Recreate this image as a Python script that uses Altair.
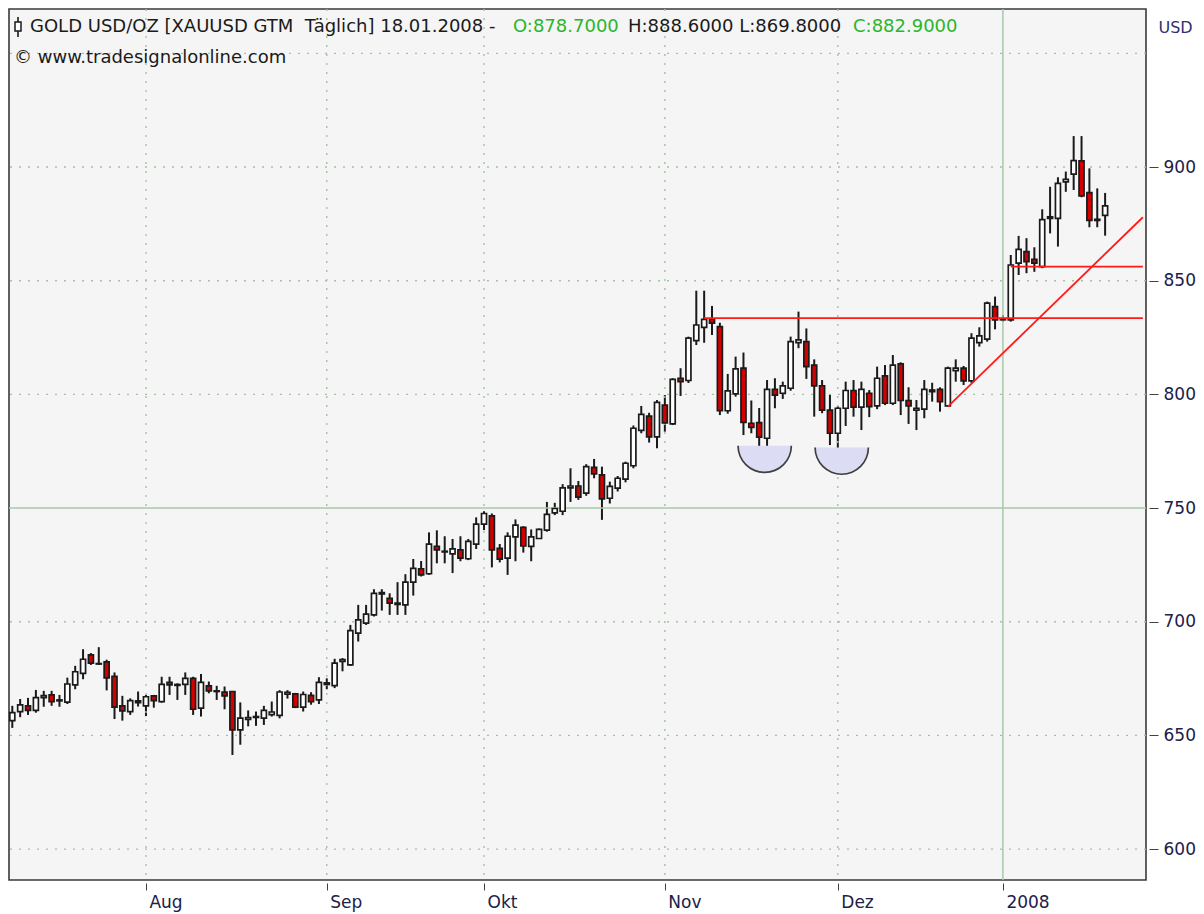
import math
import altair as alt
import pandas as pd

# ---------------- data ----------------
opens = [656.5, 660.5, 663.0, 661.0, 666.6, 667.8, 665.2, 664.6, 672.2, 677.3,
         685.4, 681.4, 682.3, 676.0, 663.0, 660.5, 664.4, 663.0, 667.4, 664.9,
         673.3, 672.0, 672.4, 675.1, 662.0, 671.8, 669.3, 669.0, 669.3, 652.4,
         657.0, 657.9, 657.6, 659.1, 658.8, 668.1, 668.3, 662.4, 667.6, 665.6,
         672.4, 671.9, 682.5, 681.0, 695.0, 699.4, 703.0, 712.2, 710.3, 707.6,
         707.4, 717.4, 723.3, 721.1, 733.1, 730.7, 729.8, 731.6, 727.7, 734.1,
         742.9, 746.6, 732.3, 728.0, 737.3, 741.5, 733.1, 736.6, 740.3, 747.9,
         748.6, 758.9, 759.7, 756.6, 767.9, 764.6, 754.3, 758.8, 762.7, 768.6,
         784.2, 790.4, 781.3, 795.3, 787.0, 807.1, 806.1, 823.6, 829.5, 833.1,
         829.8, 792.8, 800.2, 811.5, 787.3, 787.6, 780.7, 802.2, 800.5, 802.7,
         822.8, 823.2, 812.9, 803.8, 793.1, 782.9, 793.9, 801.7, 794.4, 800.5,
         794.9, 808.1, 796.1, 813.4, 797.3, 793.1, 793.5, 801.2, 802.2, 794.9,
         810.4, 811.5, 805.9, 822.8, 824.3, 838.6, 832.8, 832.8, 857.7, 862.8,
         859.4, 856.2, 877.4, 877.4, 893.5, 896.9, 902.7, 888.7, 876.5, 878.7]
highs = [663.0, 666.0, 666.5, 670.0, 669.6, 669.6, 667.8, 675.4, 680.6, 687.9,
         686.2, 688.8, 683.3, 677.7, 667.4, 666.3, 669.3, 667.8, 667.8, 675.8,
         675.8, 672.9, 677.7, 675.8, 677.0, 673.7, 671.8, 671.5, 669.5, 664.5,
         661.0, 660.5, 663.0, 664.9, 669.9, 669.9, 668.7, 669.3, 669.0, 675.6,
         675.1, 683.7, 684.0, 698.6, 707.4, 707.4, 714.3, 714.3, 712.5, 717.4,
         720.9, 727.6, 726.7, 739.3, 740.2, 737.6, 736.4, 737.6, 736.4, 745.9,
         748.6, 747.6, 734.2, 739.3, 745.0, 742.0, 740.6, 741.0, 752.7, 752.3,
         760.5, 767.5, 761.9, 769.3, 771.6, 768.2, 761.6, 764.1, 770.4, 786.3,
         794.9, 791.9, 797.5, 799.7, 807.1, 811.5, 825.4, 845.6, 845.6, 838.9,
         831.5, 809.0, 816.6, 818.4, 797.3, 794.0, 806.3, 807.1, 805.6, 825.4,
         836.4, 829.0, 815.4, 806.3, 800.0, 794.9, 805.6, 806.3, 805.6, 801.9,
         812.2, 812.9, 817.3, 814.1, 803.1, 797.5, 806.3, 805.1, 803.1, 812.2,
         815.4, 812.5, 826.9, 829.5, 840.8, 843.0, 834.9, 861.3, 869.7, 868.7,
         864.7, 881.4, 891.3, 895.5, 898.0, 913.6, 913.6, 899.4, 890.6, 888.6]
lows = [653.3, 658.0, 659.0, 660.0, 662.6, 663.0, 662.6, 663.8, 670.3, 674.7,
        681.0, 681.0, 669.8, 657.2, 656.5, 659.0, 662.7, 658.5, 662.2, 664.4,
        667.8, 665.6, 667.8, 659.0, 658.3, 668.5, 665.6, 661.5, 641.4, 645.9,
        654.0, 654.2, 654.6, 658.3, 657.5, 666.2, 662.0, 660.5, 663.5, 663.8,
        670.3, 670.8, 678.2, 680.6, 691.3, 698.6, 702.3, 704.9, 703.0, 703.0,
        703.0, 711.5, 719.9, 720.6, 725.7, 725.7, 721.4, 726.6, 727.1, 732.0,
        740.3, 723.9, 726.1, 720.6, 726.6, 730.4, 726.6, 736.4, 739.6, 746.9,
        746.9, 752.7, 753.6, 755.4, 763.1, 744.8, 752.0, 757.3, 761.3, 767.5,
        782.9, 778.8, 776.3, 783.6, 786.5, 799.3, 805.0, 821.7, 822.7, 826.1,
        790.9, 791.5, 799.0, 782.1, 782.9, 773.0, 771.9, 793.9, 798.0, 801.6,
        820.3, 806.8, 790.2, 791.7, 777.7, 776.3, 786.1, 790.2, 784.3, 790.0,
        793.5, 795.3, 795.3, 790.9, 787.0, 784.3, 789.5, 796.8, 792.4, 794.6,
        805.6, 804.1, 805.1, 821.0, 823.2, 828.6, 832.0, 832.0, 852.5, 853.3,
        853.9, 855.5, 870.8, 865.0, 889.1, 889.9, 886.7, 873.5, 873.5, 869.8]
closes = [660.0, 663.4, 661.0, 666.6, 667.5, 664.9, 665.6, 672.6, 678.0, 683.5,
          681.8, 681.6, 675.3, 662.4, 660.8, 665.3, 665.2, 667.0, 665.3, 672.4,
          672.2, 672.4, 675.1, 661.5, 673.3, 669.6, 669.6, 667.4, 652.4, 657.6,
          657.8, 658.3, 661.0, 660.3, 669.1, 668.9, 662.4, 668.0, 664.9, 673.3,
          673.1, 681.8, 683.3, 696.1, 700.8, 703.3, 712.5, 712.8, 708.2, 708.2,
          717.4, 723.5, 720.6, 734.1, 731.6, 731.0, 732.0, 728.0, 735.3, 742.9,
          747.6, 731.6, 727.5, 737.6, 742.5, 733.3, 737.3, 740.6, 747.2, 749.8,
          758.9, 759.7, 754.8, 768.2, 765.0, 754.0, 759.5, 763.1, 769.7, 785.1,
          791.2, 781.3, 796.5, 787.5, 806.6, 805.6, 824.7, 830.5, 833.0, 831.3,
          792.8, 801.5, 811.2, 787.7, 785.5, 781.2, 802.2, 799.7, 803.7, 823.2,
          824.0, 812.2, 803.7, 793.1, 782.9, 793.9, 801.7, 794.4, 802.2, 794.6,
          807.1, 796.1, 812.9, 797.3, 794.9, 793.9, 802.2, 801.9, 796.8, 811.5,
          811.5, 805.9, 824.7, 825.7, 840.1, 832.8, 833.2, 856.9, 863.8, 858.4,
          857.7, 876.9, 878.1, 892.8, 894.6, 902.8, 887.3, 876.5, 877.0, 882.9]
bar_index = list(range(len(opens)))

month_ticks = [17, 40, 60, 83, 105, 126]
month_labels = ["Aug", "Sep", "Okt", "Nov", "Dez", "2008"]
minor_bar_grid = [17, 40, 60, 83, 105]
major_bar_grid = [126]
price_ticks = [600, 650, 700, 750, 800, 850, 900]
minor_price_grid = [600, 650, 700, 800, 850, 900, 950]
major_price_grid = [750]

# red trend / resistance lines
line_x = [88, 127, 119]
line_x2 = [143.8, 143.8, 143.8]
line_y = [833.5, 856.2, 794.6]
line_y2 = [833.5, 856.2, 877.9]

# two bowl markers (centre of the flat top edge)
bowl_x = [95.7, 105.5]
bowl_y = [777.4, 776.6]

header_black1 = "GOLD USD/OZ [XAUUSD GTM \u00a0Täglich] 18.01.2008 - "
header_green1 = "O:878.7000"
header_black2 = "H:888.6000 L:869.8000"
header_green2 = "C:882.9000"
copyright_text = "© www.tradesignalonline.com"

# ---------------- chart ----------------
W, H = 1137, 871
FONT = "DejaVu Sans"
NAVY = "#202048"

df = pd.DataFrame({"i": bar_index, "open": opens, "high": highs,
                   "low": lows, "close": closes})

xs = alt.Scale(domain=[-0.42, 144.2], nice=False, zero=False, padding=0)
ys = alt.Scale(domain=[586.4, 969.5], nice=False, zero=False, padding=0)

label_expr = " : ".join(
    f"datum.value == {v} ? '{t}'" for v, t in zip(month_ticks, month_labels)
) + " : ''"

x_axis = alt.Axis(values=month_ticks, labelExpr=label_expr, grid=False,
                  domain=False, offset=3, tickSize=7, tickColor="#404040",
                  tickWidth=1, labelAlign="left", labelBaseline="top",
                  labelPadding=4, labelOffset=3, labelFontSize=17,
                  labelFont=FONT, labelColor=NAVY, title=None)
y_axis = alt.Axis(values=price_ticks, orient="right", grid=False, domain=False,
                  offset=3, tickSize=9, tickColor="#404040", tickWidth=1,
                  labelPadding=5, labelFontSize=17, labelFont=FONT,
                  labelColor=NAVY, labelAlign="left", format="d",
                  title="USD", titleAngle=0, titleAlign="left",
                  titleBaseline="middle", titleX=9, titleY=18,
                  titleFont=FONT, titleFontSize=16, titleFontWeight="normal",
                  titleColor="#303070")


def X(field):
    return alt.X(field, scale=xs, axis=x_axis)


def Y(field):
    return alt.Y(field, scale=ys, axis=y_axis)


dash = [2, 7]
gcol = "#a3c2a3"

hgrid = alt.Chart(pd.DataFrame({"p": minor_price_grid})).mark_rule(
    color=gcol, strokeDash=dash, strokeWidth=1.4).encode(y=Y("p:Q"))
vgrid = alt.Chart(pd.DataFrame({"b": minor_bar_grid})).mark_rule(
    color=gcol, strokeDash=dash, strokeWidth=1.4).encode(x=X("b:Q"))
hmajor = alt.Chart(pd.DataFrame({"p": major_price_grid})).mark_rule(
    color="#a8c8a8", strokeWidth=1.5).encode(y=Y("p:Q"))
vmajor = alt.Chart(pd.DataFrame({"b": major_bar_grid})).mark_rule(
    color="#a8c8a8", strokeWidth=1.5).encode(x=X("b:Q"))

bowl_df = pd.DataFrame({"bx": bowl_x, "by": bowl_y})
bowl_fill = alt.Chart(bowl_df).mark_arc(
    radius=27, theta=math.pi / 2, theta2=3 * math.pi / 2,
    color="#dcdcf4").encode(x=X("bx:Q"), y=Y("by:Q"))
bowl_ring = alt.Chart(bowl_df).mark_arc(
    radius=27.5, radius2=25.8, theta=math.pi / 2, theta2=3 * math.pi / 2,
    color="#404040").encode(x=X("bx:Q"), y=Y("by:Q"))

wick = alt.Chart(df).mark_rule(color="#1a1a1a", strokeWidth=2).encode(
    x=X("i:Q"), y=Y("low:Q"), y2="high:Q")
body = alt.Chart(df).mark_bar(size=5, stroke="#1a1a1a", strokeWidth=1.7).encode(
    x=X("i:Q"), y=Y("open:Q"), y2="close:Q",
    fill=alt.condition("datum.close >= datum.open",
                       alt.value("#ffffff"), alt.value("#d40000")))

lines_df = pd.DataFrame({"x": line_x, "x2": line_x2, "y": line_y, "y2": line_y2})
red_lines = alt.Chart(lines_df).mark_rule(color="#ff1a1a", strokeWidth=1.8).encode(
    x=X("x:Q"), x2="x2:Q", y=Y("y:Q"), y2="y2:Q")


def text_layer(txt, xpx, ypx, color, size=18):
    return alt.Chart(pd.DataFrame({"t": [txt]})).mark_text(
        align="left", baseline="middle", font=FONT, fontSize=size,
        color=color).encode(x=alt.value(xpx), y=alt.value(ypx), text="t:N")


t1 = text_layer(header_black1, 21, 18, "#1a1a1a")
t2 = text_layer(header_green1, 504, 18, "#2cb52c")
t3 = text_layer(header_black2, 619, 18, "#1a1a1a")
t4 = text_layer(header_green2, 844, 18, "#2cb52c")
t5 = text_layer(copyright_text, 5, 49, "#1a1a1a")

icon_df = pd.DataFrame({"k": [0]})
icon_wick = alt.Chart(icon_df).mark_rule(color="#1a1a1a", strokeWidth=1.6).encode(
    x=alt.value(9), y=alt.value(8), y2=alt.value(28))
icon_body = alt.Chart(icon_df).mark_rect(fill="#ffffff", stroke="#1a1a1a",
                                         strokeWidth=1.5).encode(
    x=alt.value(6), x2=alt.value(12), y=alt.value(13), y2=alt.value(22))

chart = alt.layer(
    wick, hgrid, vgrid, hmajor, vmajor, bowl_fill, bowl_ring, body, red_lines,
    t1, t2, t3, t4, t5, icon_wick, icon_body
).properties(
    width=W, height=H,
    autosize=alt.AutoSizeParams(type="none"),
    padding={"left": 1, "top": 1, "right": 50, "bottom": 33},
    background="#ffffff"
).configure_view(
    fill="#f5f5f5", stroke="#3a3a3a", strokeWidth=1.6
)

chart.save("out.html", embed_options={"renderer": "svg", "actions": False})
